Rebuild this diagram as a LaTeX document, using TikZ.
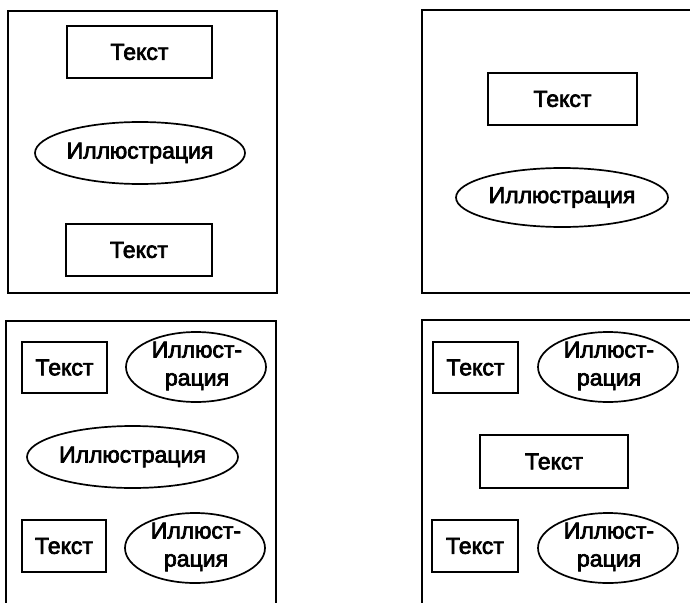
\documentclass[tikz,border=0pt]{standalone}
\usepackage{fontspec}
\setmainfont{Liberation Sans}
\newfontfamily\lblfont{Liberation Sans}[FakeBold=3]
\usetikzlibrary{shapes.geometric}
\begin{document}
\begin{tikzpicture}[x=1pt,y=-1pt,
  frame/.style={line width=2pt, line cap=rect},
  lbl/.style={font=\lblfont\fontsize{23}{28}\selectfont, text=black},
  tbox/.style={draw, line width=1.7pt, rectangle, inner sep=0pt, lbl},
  ill/.style={draw, line width=1.7pt, ellipse, inner sep=0pt, lbl, align=center}]
\useasboundingbox (0,0) rectangle (690,602);
% frames
\draw[frame] (8,11) rectangle (277,293);
\draw[frame] (690,10) -- (422,10) -- (422,293) -- (690,293);
\draw[frame] (6,602) -- (6,321) -- (276,321) -- (276,602);
\draw[frame] (422,602) -- (422,320) -- (690,320);
% panel 1
\node[tbox, minimum width=145pt, minimum height=52pt] (t1a) at (139.5,52) {Текст};
\node[ill, minimum width=210pt, minimum height=62pt] (i1) at (140,153) {Иллюстрация};
\node[tbox, minimum width=146pt, minimum height=52pt] (t1b) at (139,250) {Текст};
% panel 2
\node[tbox, minimum width=149pt, minimum height=52pt] (t2) at (562.5,99) {Текст};
\node[ill, minimum width=212pt, minimum height=59pt] (i2) at (562,197.5) {Иллюстрация};
% panel 3
\node[tbox, minimum width=85pt, minimum height=51pt] (t3a) at (64.5,367.5) {Текст};
\node[ill, minimum width=140pt, minimum height=70pt] (i3a) at (196,367) {};
\node[lbl, align=center, inner sep=0pt] (i3atext) at (197,366) {Иллюст-\\рация};
\node[ill, minimum width=211pt, minimum height=62pt] (i3b) at (132.5,457) {Иллюстрация};
\node[tbox, minimum width=84pt, minimum height=52pt] (t3c) at (64,546) {Текст};
\node[ill, minimum width=140pt, minimum height=70pt] (i3c) at (195,548) {};
\node[lbl, align=center, inner sep=0pt] (i3ctext) at (196,547) {Иллюст-\\рация};
% panel 4
\node[tbox, minimum width=85pt, minimum height=51pt] (t4a) at (475.5,367.5) {Текст};
\node[ill, minimum width=140pt, minimum height=70pt] (i4a) at (608,367) {};
\node[lbl, align=center, inner sep=0pt] (i4atext) at (609,366) {Иллюст-\\рация};
\node[tbox, minimum width=148pt, minimum height=53pt] (t4b) at (554,461.5) {Текст};
\node[tbox, minimum width=86pt, minimum height=52pt] (t4c) at (475,546) {Текст};
\node[ill, minimum width=140pt, minimum height=70pt] (i4c) at (608,548) {};
\node[lbl, align=center, inner sep=0pt] (i4ctext) at (609,547) {Иллюст-\\рация};
\end{tikzpicture}
\end{document}
